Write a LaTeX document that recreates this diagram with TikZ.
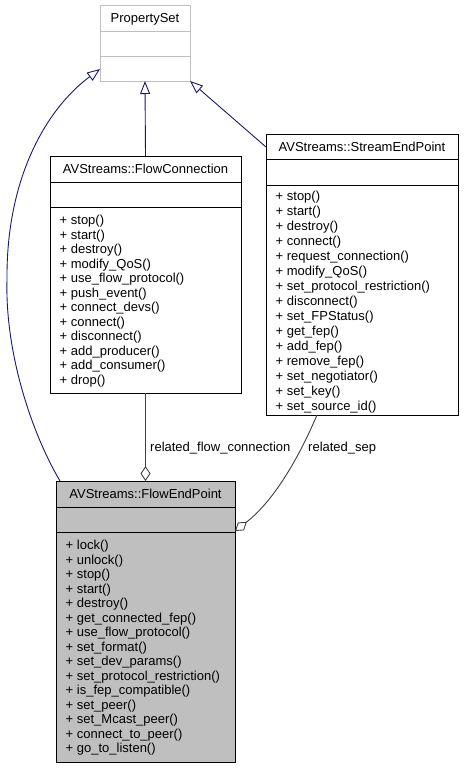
\documentclass[tikz,border=0pt]{standalone}
\usepackage{fontspec}
\setmainfont{Liberation Sans}
\usetikzlibrary{arrows.meta}
\definecolor{inh}{HTML}{191970}
\definecolor{usec}{HTML}{404040}
\definecolor{extb}{HTML}{BFBFBF}
\begin{document}
\begin{tikzpicture}[x=1pt,y=-1pt,
  classbox/.style={draw, line width=0.9pt, inner sep=0pt, outer sep=0pt, anchor=north west},
  ctitle/.style={anchor=base, inner sep=0pt, font=\fontsize{13}{14.5}\selectfont},
  mlist/.style={anchor=base west, inner sep=0pt, font=\fontsize{13}{14.5}\selectfont},
  inherit/.style={draw=inh, line width=0.9pt, -{Triangle[open, length=13pt, width=10pt]}},
  usage/.style={draw=usec, line width=0.9pt, -{Diamond[open, length=15pt, width=10pt]}},
  lbl/.style={anchor=base west, inner sep=0pt, font=\fontsize{13}{14.5}\selectfont}
]
\useasboundingbox[fill=white] (0,0) rectangle (463,768);

% PropertySet
\node[classbox, draw=extb, minimum width=90pt, minimum height=76pt] (ps) at (100,5) {};
\draw[extb, line width=0.9pt] (100,31) -- (190,31) (100,56) -- (190,56);
\node[ctitle] (pst) at (145,22.5) {PropertySet};

% FlowConnection
\node[classbox, minimum width=191pt, minimum height=237pt] (fc) at (50,156) {};
\draw[line width=0.9pt] (50,182) -- (241,182) (50,207) -- (241,207);
\node[ctitle] (fct) at (145.5,173.5) {AVStreams::FlowConnection};
\node[mlist] (fcm) at (59.5,224.5) {\begin{tabular}[t]{@{}l@{}}
+ stop()\\ + start()\\ + destroy()\\ + modify\_QoS()\\ + use\_flow\_protocol()\\
+ push\_event()\\ + connect\_devs()\\ + connect()\\ + disconnect()\\
+ add\_producer()\\ + add\_consumer()\\ + drop()\end{tabular}};

% StreamEndPoint
\node[classbox, minimum width=192pt, minimum height=281pt] (sep) at (266,134) {};
\draw[line width=0.9pt] (266,159) -- (458,159) (266,185) -- (458,185);
\node[ctitle] (sept) at (362,151.5) {AVStreams::StreamEndPoint};
\node[mlist, font=\fontsize{13}{15}\selectfont] (sepm) at (275.5,200.5) {\begin{tabular}[t]{@{}l@{}}
+ stop()\\ + start()\\ + destroy()\\ + connect()\\ + request\_connection()\\
+ modify\_QoS()\\ + set\_protocol\_restriction()\\ + disconnect()\\ + set\_FPStatus()\\
+ get\_fep()\\ + add\_fep()\\ + remove\_fep()\\ + set\_negotiator()\\ + set\_key()\\
+ set\_source\_id()\end{tabular}};

% FlowEndPoint
\node[classbox, fill=extb, minimum width=179pt, minimum height=281pt] (fep) at (56,481) {};
\draw[line width=0.9pt] (56,507) -- (235,507) (56,532) -- (235,532);
\node[ctitle] (fept) at (145.5,498.5) {AVStreams::FlowEndPoint};
\node[mlist] (fepm) at (65.5,549.5) {\begin{tabular}[t]{@{}l@{}}
+ lock()\\ + unlock()\\ + stop()\\ + start()\\ + destroy()\\ + get\_connected\_fep()\\
+ use\_flow\_protocol()\\ + set\_format()\\ + set\_dev\_params()\\
+ set\_protocol\_restriction()\\ + is\_fep\_compatible()\\ + set\_peer()\\
+ set\_Mcast\_peer()\\ + connect\_to\_peer()\\ + go\_to\_listen()\end{tabular}};

% inheritance
\coordinate (sepin) at ([yshift=-13pt]sep.north west);
\coordinate (fepin) at ([xshift=4pt]fep.north west);
\coordinate (pstip) at ([yshift=12pt]ps.south west);
\draw[inherit] (fc.north) -- (ps.south);
\draw[inherit] (sepin) -- (ps.south east);
\draw[inherit] (fepin) .. controls (30,430) and (5,350) .. (7,280)
  .. controls (6,180) and (45,110) .. (pstip);

% usage
\coordinate (sepout) at ([xshift=-45pt]sep.south);
\coordinate (fepr) at ([yshift=-50pt]fep.north east);
\draw[usage] (fc.south) -- (fep.north);
\draw[usage] (sepout) .. controls (300,455) and (275,500) .. (fepr);

\node[lbl] (l1) at (150,451) {related\_flow\_connection};
\node[lbl] (l2) at (308,451) {related\_sep};
\end{tikzpicture}
\end{document}
